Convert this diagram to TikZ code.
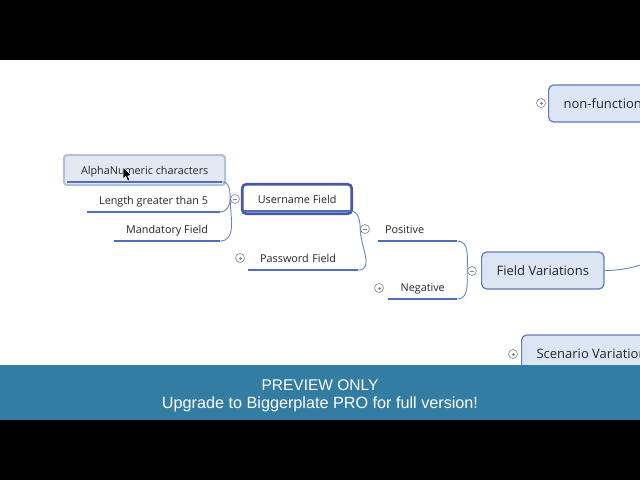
\documentclass[tikz,border=0pt]{standalone}
\usepackage{fontspec}
\setmainfont{Open Sans}
\newfontfamily\bannerfont{Liberation Sans}
\usepackage{tikz}

\definecolor{textgrey}{RGB}{38,38,38}
\definecolor{mapline}{RGB}{80,110,190}
\definecolor{branchline}{RGB}{105,130,195}
\definecolor{btngrey}{RGB}{125,135,155}
\definecolor{topicfill}{RGB}{220,229,243}
\definecolor{topicborder}{RGB}{95,122,190}
\definecolor{selfill}{RGB}{226,233,243}
\definecolor{selborder}{RGB}{178,192,216}
\definecolor{userborder}{RGB}{72,86,165}
\definecolor{banner}{RGB}{51,124,162}

\tikzset{
  leaf/.style={anchor=south west,inner xsep=12bp,inner ysep=7.5bp,text height=8bp,text depth=0bp,
    text=textgrey,font=\fontsize{10.8bp}{12bp}\selectfont},
  topic/.style={anchor=west,draw=topicborder,fill=topicfill,rounded corners=5bp,line width=1.2bp,
    inner xsep=15bp,minimum height=37bp,text=textgrey,font=\fontsize{13bp}{15bp}\selectfont},
  selframe/.style={draw=selborder,fill=selfill,rounded corners=3bp,line width=2bp},
  userframe/.style={draw=userborder,rounded corners=4bp,line width=2.6bp},
  uline/.style={draw=mapline,line width=2.4bp},
  branch/.style={draw=branchline,line width=0.9bp},
  btn/.style={circle,draw=btngrey,fill=white,line width=0.6bp,minimum size=9bp,inner sep=0bp},
  minusbtn/.style={btn,path picture={
    \draw[btngrey,line width=0.8bp] ([xshift=-2bp]path picture bounding box.center) -- ([xshift=2bp]path picture bounding box.center);}},
  plusbtn/.style={btn,path picture={
    \draw[btngrey,line width=0.8bp] ([xshift=-1.5bp]path picture bounding box.center) -- ([xshift=1.5bp]path picture bounding box.center)
      ([yshift=-1.5bp]path picture bounding box.center) -- ([yshift=1.5bp]path picture bounding box.center);}},
  bannertext/.style={text=white,font=\bannerfont\fontsize{15.5bp}{18bp}\selectfont,inner sep=0bp}
}

\begin{document}
\begin{tikzpicture}

\clip (0,0) rectangle (640bp,-480bp);
\fill[black] (0,0) rectangle (640bp,-480bp);
\fill[white] (0,-60bp) rectangle (640bp,-365bp);

\node (alphabox) at (144.5bp,-170bp)[selframe,minimum width=161bp,minimum height=30bp] {};
\node (alpha) at (67bp,-182bp)[leaf,minimum width=155bp] {AlphaNumeric characters};
\node (len) at (87bp,-212bp)[leaf,minimum width=132bp] {Length greater than 5};
\node (mand) at (114bp,-241bp)[leaf,minimum width=105bp] {Mandatory Field};
\node (user) at (244bp,-211bp)[leaf,minimum width=106bp] {Username Field};
\node (userbox) at (297bp,-199bp)[userframe,minimum width=109.5bp,minimum height=29.5bp] {};
\node (pass) at (248bp,-270bp)[leaf,align=left,text width=86bp] {Password Field};
\node (pos) at (378bp,-241bp)[leaf,align=left,inner xsep=7bp,text width=65bp] {Positive};
\node (neg) at (388bp,-299bp)[leaf,minimum width=69bp] {Negative};

\node (fv) at (481bp,-270.5bp)[topic] {Field Variations};
\node (nonf) at (548bp,-103.5bp)[topic] {non-functional};
\node (scen) at (521bp,-353.5bp)[topic] {Scenario Variations};
\coordinate (root) at (700bp,-240bp);

\foreach \n in {alpha,len,mand,user,pass,pos,neg}
  \draw[uline] (\n.south west) -- (\n.south east);

\node (userbtn) at (235bp,-199bp)[minusbtn] {};
\node (posbtn) at (365bp,-229bp)[minusbtn] {};
\node (fvbtn) at (472bp,-271bp)[minusbtn] {};
\node (passbtn) at (240bp,-258bp)[plusbtn] {};
\node (negbtn) at (379bp,-288bp)[plusbtn] {};
\node (nonfbtn) at (541bp,-103bp)[plusbtn] {};
\node (scenbtn) at (513bp,-354bp)[plusbtn] {};

\draw[branch] (alpha.south east) to[out=0,in=90] (userbtn.west);
\draw[branch] (len.south east) to[out=0,in=-90] (userbtn.west);
\draw[branch] (mand.south east) to[out=0,in=-90] (userbtn.west);
\draw[branch] (user.south east) to[out=0,in=90] (posbtn.west);
\draw[branch] (pass.south east) to[out=0,in=-90] (posbtn.west);
\draw[branch] (pos.south east) to[out=0,in=90] (fvbtn.west);
\draw[branch] (neg.south east) to[out=0,in=-90] (fvbtn.west);
\draw[branch] (fv.east) to[out=0,in=200] (root);

\filldraw[fill=black,draw=white,line width=0.5bp] (123bp,-167bp) -- (123bp,-179bp) -- (125.8bp,-176.5bp)
  -- (127.8bp,-181bp) -- (129.8bp,-180.2bp) -- (127.8bp,-175.8bp) -- (131.5bp,-175.6bp) -- cycle;

\fill[banner] (0,-365bp) rectangle (640bp,-420bp);
\node (preview) at (320bp,-385bp)[bannertext] {PREVIEW ONLY};
\node (upgrade) at (320bp,-404.5bp)[bannertext,font=\bannerfont\fontsize{16.2bp}{18bp}\selectfont] {Upgrade to Biggerplate PRO for full version!};

\end{tikzpicture}
\end{document}
